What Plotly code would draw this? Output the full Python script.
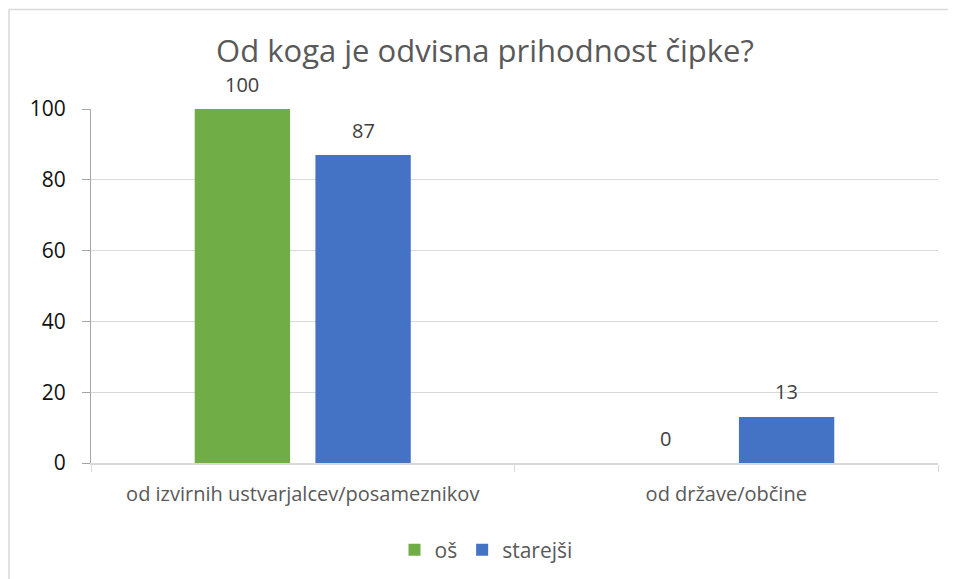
import plotly.graph_objects as go

categories = ["od izvirnih ustvarjalcev/posameznikov", "od države/občine"]
os_values = [100, 0]
starejsi_values = [87, 13]
series_names = ["oš", "starejši"]
series_colors = ["#70ad47", "#4472c4"]
y_ticks = [0, 20, 40, 60, 80, 100]
title_text = "Od koga je odvisna prihodnost čipke?"

FONT = "Open Sans"
W, H = 956, 579
OFF = 8  # page body margin offset
L, R, T, B = 91 - OFF, 18 + OFF, 109 - OFF, 116 + OFF
pw = W - L - R
ph = H - T - B
BARGAP = 0.43

fig = go.Figure()
for name, vals, col in zip(series_names, [os_values, starejsi_values], series_colors):
    fig.add_trace(go.Bar(
        x=categories, y=vals, name=name,
        marker=dict(color=col, line=dict(width=0)),
    ))

# data labels above bars
slot = (1 - BARGAP) / 2
for k, vals in enumerate([os_values, starejsi_values]):
    for i, v in enumerate(vals):
        fig.add_annotation(
            x=i + (k - 0.5) * slot, y=v, xref="x", yref="y",
            text=str(v), showarrow=False, yanchor="middle", yshift=25,
            font=dict(family=FONT, size=20, color="#404040"),
        )

def px_x(p):
    return (p - OFF - L) / pw

def px_y(p):
    return (H - B - (p - OFF)) / ph

fig.update_layout(
    width=W, height=H, autosize=False,
    margin=dict(l=L, r=R, t=T, b=B, autoexpand=False),
    paper_bgcolor="white", plot_bgcolor="white",
    barmode="group", bargap=BARGAP, bargroupgap=0.21,
    font=dict(family=FONT, color="#595959"),
    title=dict(text=title_text, x=(485 - OFF) / W, xanchor="center", xref="container",
               y=1 - (51 - OFF) / H, yanchor="middle", yref="container",
               font=dict(family=FONT, size=31, color="#595959")),
    showlegend=True,
    legend=dict(orientation="h", x=(486 - OFF) / W, xanchor="center", xref="container",
                y=1 - (550 - OFF) / H, yanchor="middle", yref="container",
                font=dict(family=FONT, size=21, color="#595959"),
                itemwidth=30, traceorder="normal"),
)
fig.update_yaxes(
    range=[0, 100], tickvals=y_ticks, showgrid=True, gridcolor="#d9d9d9", gridwidth=1,
    showline=True, linecolor="#a6a6a6", linewidth=1,
    ticks="outside", ticklen=8, tickcolor="#a6a6a6", ticklabelstandoff=12,
    tickfont=dict(family=FONT, size=21, color="#111111"), zeroline=False,
)
fig.update_xaxes(
    showline=True, linecolor="#d9d9d9", linewidth=1.5,
    ticks="outside", ticklen=7, tickcolor="#d9d9d9", tickson="boundaries",
    ticklabelstandoff=12,
    tickfont=dict(family=FONT, size=20, color="#595959"), tickangle=0,
)
fig.add_shape(type="rect", xref="paper", yref="paper",
              x0=px_x(9), x1=px_x(W + 40), y0=px_y(H + 40), y1=px_y(9.5),
              line=dict(color="#d9d9d9", width=1.5), fillcolor="rgba(0,0,0,0)",
              layer="below")
fig.write_html("out.html")
